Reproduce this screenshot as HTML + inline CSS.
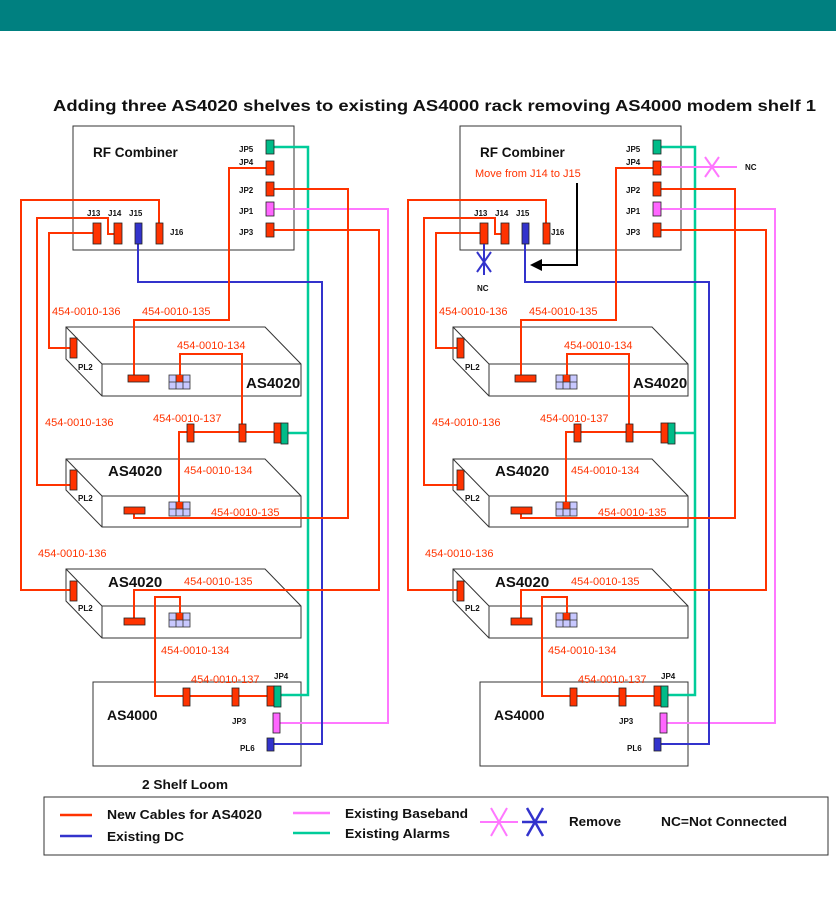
<!DOCTYPE html>
<html><head><meta charset="utf-8"><style>
html,body{margin:0;padding:0;background:#fff;}
svg{display:block;font-family:"Liberation Sans",Arial,sans-serif;}
.r{fill:#ff3300;stroke:#222;stroke-width:0.8}
.lbl{fill:#ff3300;font-size:11px}
.sm{font-size:8px;font-weight:bold;fill:#111}
.b{font-weight:bold;fill:#111}
.cr{stroke:#ff3300;stroke-width:2;fill:none}
</style></head><body>
<svg width="836" height="915" viewBox="0 0 836 915" xmlns="http://www.w3.org/2000/svg">
<rect x="0" y="0" width="836" height="31" fill="#008080"/>
<text x="53" y="111" class="b" font-size="15.5" textLength="763" lengthAdjust="spacingAndGlyphs">Adding three AS4020 shelves to existing AS4000 rack removing AS4000 modem shelf 1</text>
<defs>
<g id="side">
  <rect x="73" y="126" width="221" height="124" fill="#fff" stroke="#333" stroke-width="1"/>
  <text x="93" y="157" class="b" font-size="13.5">RF Combiner</text>
  <text x="87" y="216" class="sm">J13</text><text x="108" y="216" class="sm">J14</text><text x="129" y="216" class="sm">J15</text>
  <text x="239" y="152" class="sm">JP5</text><text x="239" y="165" class="sm">JP4</text><text x="239" y="193" class="sm">JP2</text><text x="239" y="214" class="sm">JP1</text><text x="239" y="235" class="sm">JP3</text>

  <polygon points="66,327 265,327 301,364 301,396 102,396 66,359" fill="#fff" stroke="#333"/>
  <polyline points="66,327 102,364 301,364" fill="none" stroke="#333"/>
  <line x1="102" y1="364" x2="102" y2="396" stroke="#333"/>
  <text x="246" y="388" class="b" font-size="15">AS4020</text>
  <polygon points="66,459 265,459 301,496 301,527 102,527 66,490" fill="#fff" stroke="#333"/>
  <polyline points="66,459 102,496 301,496" fill="none" stroke="#333"/>
  <line x1="102" y1="496" x2="102" y2="527" stroke="#333"/>
  <text x="108" y="476" class="b" font-size="15">AS4020</text>
  <polygon points="66,569 265,569 301,606 301,638 102,638 66,601" fill="#fff" stroke="#333"/>
  <polyline points="66,569 102,606 301,606" fill="none" stroke="#333"/>
  <line x1="102" y1="606" x2="102" y2="638" stroke="#333"/>
  <text x="108" y="587" class="b" font-size="15">AS4020</text>
  <rect x="93" y="682" width="208" height="84" fill="#fff" stroke="#333"/>
  <text x="107" y="720" class="b" font-size="14">AS4000</text>
  <text x="274" y="679" class="sm">JP4</text><text x="232" y="724" class="sm">JP3</text><text x="240" y="751" class="sm">PL6</text>
  <text x="78" y="370" class="sm">PL2</text><text x="78" y="501" class="sm">PL2</text><text x="78" y="611" class="sm">PL2</text>

  <polyline points="274,147 308,147 308,695 281,695" fill="none" stroke="#00cc99" stroke-width="2.5"/>
  <line x1="288" y1="433" x2="308" y2="433" stroke="#00cc99" stroke-width="2.5"/>
  <polyline points="274,209 388,209 388,723 280,723" fill="none" stroke="#ff77ff" stroke-width="2"/>
  <polyline points="138,244 138,282 322,282 322,744 273,744" fill="none" stroke="#3333cc" stroke-width="2"/>
  <polyline class="cr" points="266,168 229,168 229,320 134,320 134,376"/>
  <polyline class="cr" points="274,189 348,189 348,518 134,518 134,512"/>
  <polyline class="cr" points="274,230 379,230 379,590 134,590 134,619"/>
  <polyline class="cr" points="159,223 159,200 21,200 21,590 70,590"/>
  <polyline class="cr" points="114,234 108,234 108,218 37,218 37,485 70,485"/>
  <polyline class="cr" points="93,233 49,233 49,348 70,348"/>
  <polyline class="cr" points="180,376 180,354 242,354 242,432"/>
  <polyline class="cr" points="274,432 179,432 179,503"/>
  <polyline class="cr" points="180,614 180,597 155,597 155,696 268,696"/>

  <rect class="r" x="93" y="223" width="8" height="21"/>
  <rect class="r" x="114" y="223" width="8" height="21"/>
  <rect x="135" y="223" width="7" height="21" fill="#3333cc" stroke="#222" stroke-width="0.8"/>
  <rect class="r" x="156" y="223" width="7" height="21"/>
  <rect x="266" y="140" width="8" height="14" fill="#00bb88" stroke="#222" stroke-width="0.8"/>
  <rect class="r" x="266" y="161" width="8" height="14"/>
  <rect class="r" x="266" y="182" width="8" height="14"/>
  <rect x="266" y="202" width="8" height="14" fill="#ff66ff" stroke="#222" stroke-width="0.8"/>
  <rect class="r" x="266" y="223" width="8" height="14"/>
  <rect class="r" x="70" y="338" width="7" height="20"/>
  <rect class="r" x="70" y="470" width="7" height="20"/>
  <rect class="r" x="70" y="581" width="7" height="20"/>
  <rect class="r" x="128" y="375" width="21" height="7"/>
  <rect class="r" x="124" y="507" width="21" height="7"/>
  <rect class="r" x="124" y="618" width="21" height="7"/>
  <g id="grid1">
    <rect x="169" y="375" width="21" height="14" fill="#c8c8ff" stroke="#333" stroke-width="0.8"/>
    <rect x="176" y="375" width="7" height="7" fill="#ff3300"/>
    <path d="M176,375V389M183,375V389M169,382H190" stroke="#333" stroke-width="0.8"/>
  </g>
  <use href="#grid1" y="127"/>
  <use href="#grid1" y="238"/>
  <rect class="r" x="187" y="424" width="7" height="18"/>
  <rect class="r" x="239" y="424" width="7" height="18"/>
  <rect class="r" x="274" y="423" width="7" height="20"/>
  <rect x="281" y="423" width="7" height="21" fill="#00bb88" stroke="#222" stroke-width="0.8"/>
  <rect class="r" x="183" y="688" width="7" height="18"/>
  <rect class="r" x="232" y="688" width="7" height="18"/>
  <rect class="r" x="267" y="686" width="7" height="20"/>
  <rect x="274" y="686" width="7" height="21" fill="#00bb88" stroke="#222" stroke-width="0.8"/>
  <rect x="273" y="713" width="7" height="20" fill="#ff66ff" stroke="#222" stroke-width="0.8"/>
  <rect x="267" y="738" width="7" height="13" fill="#3333cc" stroke="#222" stroke-width="0.8"/>

  <text x="52" y="315" class="lbl">454-0010-136</text>
  <text x="142" y="315" class="lbl">454-0010-135</text>
  <text x="177" y="349" class="lbl">454-0010-134</text>
  <text x="45" y="426" class="lbl">454-0010-136</text>
  <text x="153" y="422" class="lbl">454-0010-137</text>
  <text x="184" y="474" class="lbl">454-0010-134</text>
  <text x="211" y="516" class="lbl">454-0010-135</text>
  <text x="38" y="557" class="lbl">454-0010-136</text>
  <text x="184" y="585" class="lbl">454-0010-135</text>
  <text x="161" y="654" class="lbl">454-0010-134</text>
  <text x="191" y="683" class="lbl">454-0010-137</text>
</g>
</defs>
<use href="#side"/>
<use href="#side" x="387"/>
<text x="170" y="235" class="sm">J16</text>
<text x="551" y="235" class="sm">J16</text>

<text x="475" y="177" class="lbl">Move from J14 to J15</text>
<polyline points="577,183 577,265 540,265" fill="none" stroke="#000" stroke-width="2"/>
<polygon points="530,265 542,259 542,271" fill="#000"/>
<line x1="484" y1="244" x2="484" y2="275" stroke="#3333cc" stroke-width="2"/>
<path d="M477,252L491,272M491,252L477,272" stroke="#3333cc" stroke-width="2"/>
<text x="477" y="291" class="sm">NC</text>
<line x1="661" y1="167" x2="737" y2="167" stroke="#ff77ff" stroke-width="2"/>
<path d="M705,157L719,177M719,157L705,177" stroke="#ff77ff" stroke-width="2"/>
<text x="745" y="170" class="sm">NC</text>

<text x="142" y="789" class="b" font-size="12.5" textLength="86" lengthAdjust="spacingAndGlyphs">2 Shelf Loom</text>
<rect x="44" y="797" width="784" height="58" fill="#fff" stroke="#333"/>
<line x1="60" y1="815" x2="92" y2="815" stroke="#ff3300" stroke-width="2.5"/>
<text x="107" y="819" class="b" font-size="13" textLength="155" lengthAdjust="spacingAndGlyphs">New Cables for AS4020</text>
<line x1="60" y1="836" x2="92" y2="836" stroke="#3333cc" stroke-width="2.5"/>
<text x="107" y="841" class="b" font-size="13" textLength="77" lengthAdjust="spacingAndGlyphs">Existing DC</text>
<line x1="293" y1="813" x2="330" y2="813" stroke="#ff77ff" stroke-width="2.5"/>
<text x="345" y="818" class="b" font-size="13" textLength="123" lengthAdjust="spacingAndGlyphs">Existing Baseband</text>
<line x1="293" y1="833" x2="330" y2="833" stroke="#00cc99" stroke-width="2.5"/>
<text x="345" y="838" class="b" font-size="13" textLength="105" lengthAdjust="spacingAndGlyphs">Existing Alarms</text>
<path d="M480,822H518M491,808L507,836M507,808L491,836" stroke="#ff77ff" stroke-width="2" fill="none"/>
<path d="M522,822H547M527,808L543,836M543,808L527,836" stroke="#3333cc" stroke-width="2.5" fill="none"/>
<text x="569" y="826" class="b" font-size="13" textLength="52" lengthAdjust="spacingAndGlyphs">Remove</text>
<text x="661" y="826" class="b" font-size="13" textLength="126" lengthAdjust="spacingAndGlyphs">NC=Not Connected</text>
</svg>
</body></html>
